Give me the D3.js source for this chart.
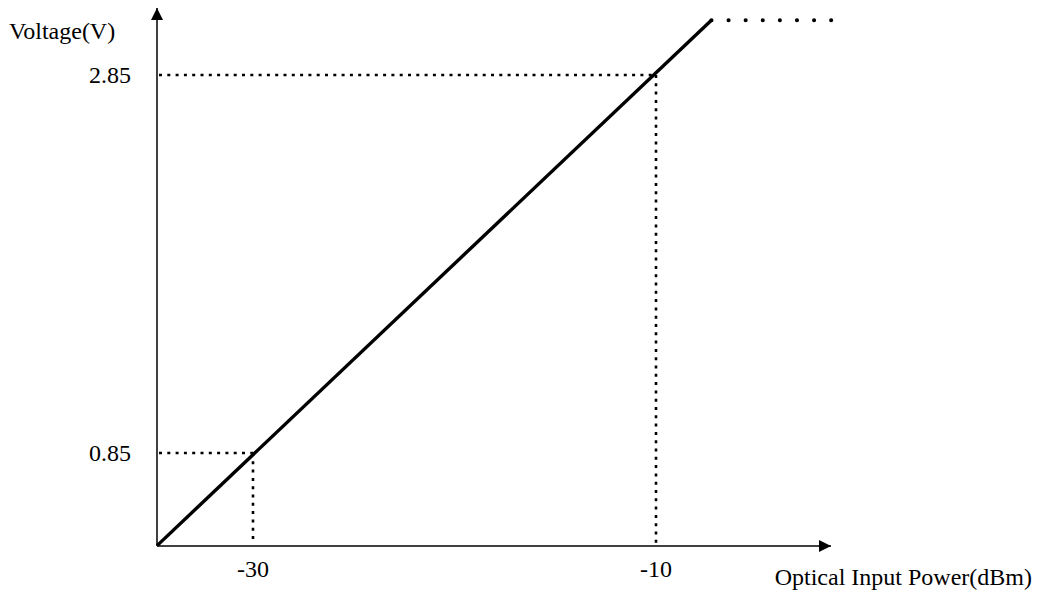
<!DOCTYPE html>
<html><head><meta charset="utf-8">
<script src="https://cdn.jsdelivr.net/npm/d3@7"></script>
<style>body{margin:0;background:#fff}svg{display:block}</style>
</head><body>
<svg id="c" width="1038" height="594"></svg>
<script>
const xTicks = [-30, -10];
const yTicks = [0.85, 2.85];
const responseX = [-34.76, -7.25];
const responseY = [0.36, 3.14];
const saturationX = [-7.25, -1.2];
const saturationY = [3.14, 3.14];
const xTitle = "Optical Input Power(dBm)";
const yTitle = "Voltage(V)";

const svg = d3.select("#c");
const x = d3.scaleLinear().domain([-30, -10]).range([253, 656]);
const y = d3.scaleLinear().domain([0.85, 2.85]).range([453, 75]);
const x0 = x.invert(157), y0 = y.invert(546);
const font = "Liberation Serif, Times New Roman, serif";

const defs = svg.append("defs");
defs.append("marker").attr("id","arr").attr("viewBox","0 0 10 10").attr("refX",10).attr("refY",5)
  .attr("markerWidth",13).attr("markerHeight",12).attr("markerUnits","userSpaceOnUse").attr("orient","auto")
  .append("path").attr("d","M0,0L10,5L0,10Z").attr("fill","#000");

// axes
svg.append("line").attr("x1",x(x0)).attr("y1",y(y0)).attr("x2",x(x0)).attr("y2",8)
  .attr("stroke","#000").attr("stroke-width",1.5).attr("marker-end","url(#arr)");
svg.append("line").attr("x1",x(x0)).attr("y1",y(y0)).attr("x2",831).attr("y2",y(y0))
  .attr("stroke","#000").attr("stroke-width",1.5).attr("marker-end","url(#arr)");

// guide dotted lines
function dl(x1,y1,x2,y2){
  return svg.append("line").attr("x1",x1).attr("y1",y1).attr("x2",x2).attr("y2",y2)
    .attr("stroke","#000").attr("stroke-width",2.6).attr("stroke-dasharray","3,5.3");
}
xTicks.forEach((t,i)=>{
  dl(x(x0)+2, y(yTicks[i]), x(t), y(yTicks[i]));
  dl(x(t), y(yTicks[i]), x(t), y(y0)-2);
});

// response line
const line = d3.line().x(d=>x(d[0])).y(d=>y(d[1]));
svg.append("path").datum(d3.zip(responseX, responseY)).attr("d", line)
  .attr("fill","none").attr("stroke","#000").attr("stroke-width",3.4);
svg.append("path").datum(d3.zip(saturationX, saturationY)).attr("d", line)
  .attr("fill","none").attr("stroke","#000").attr("stroke-width",4)
  .attr("stroke-dasharray","0.1,17").attr("stroke-linecap","round");

// labels
svg.selectAll(".xt").data(xTicks).enter().append("text").attr("x",d=>x(d)).attr("y",y(y0)+31)
  .attr("text-anchor","middle").attr("font-family",font).attr("font-size",24).text(d=>d);
svg.selectAll(".yt").data(yTicks).enter().append("text").attr("x",131).attr("y",d=>y(d)+8)
  .attr("text-anchor","end").attr("font-family",font).attr("font-size",24).text(d=>d.toFixed(2));
svg.append("text").attr("x",9).attr("y",39).attr("font-family",font).attr("font-size",24).text(yTitle);
svg.append("text").attr("x",1032).attr("y",585).attr("text-anchor","end").attr("font-family",font).attr("font-size",24).text(xTitle);
</script>
</body></html>
